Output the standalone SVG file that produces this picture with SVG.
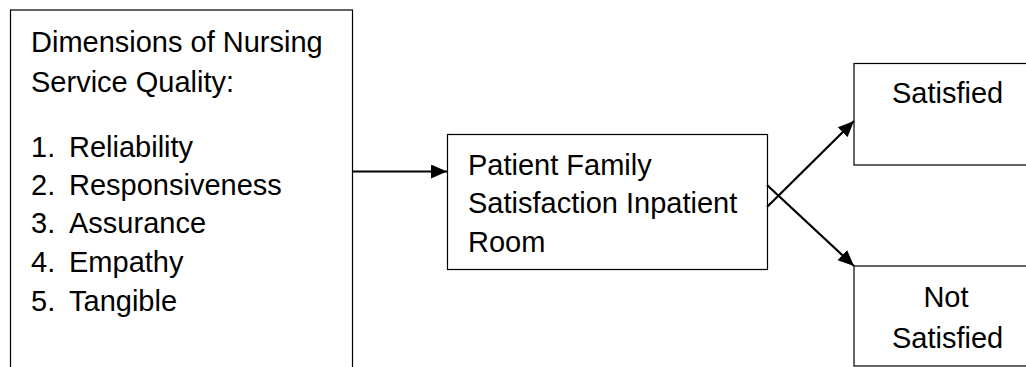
<svg xmlns="http://www.w3.org/2000/svg" width="1026" height="367" viewBox="0 0 1026 367">
<style>
.box{fill:#fff;stroke:#000;stroke-width:1.2}
.t{font-family:"Liberation Sans",Arial,sans-serif;font-size:29px;fill:#000}
.c{stroke:#000;stroke-width:2.2;fill:none}
</style>
<defs>
<marker id="ah" markerWidth="18" markerHeight="16" refX="16" refY="7" orient="auto" markerUnits="userSpaceOnUse">
<path d="M0,0 L16,7 L0,14 Z" fill="#000"/>
</marker>
</defs>
<rect width="1026" height="367" fill="#fff"/>
<g id="dimensions">
<rect class="box" x="10.5" y="10" width="342" height="370"/>
<text class="t" x="31" y="52">Dimensions of Nursing</text>
<text class="t" x="31" y="92">Service Quality:</text>
<text class="t" x="31" y="157">1.</text><text class="t" x="69" y="157">Reliability</text>
<text class="t" x="31" y="195">2.</text><text class="t" x="69" y="195">Responsiveness</text>
<text class="t" x="31" y="233">3.</text><text class="t" x="69" y="233">Assurance</text>
<text class="t" x="31" y="272">4.</text><text class="t" x="69" y="272">Empathy</text>
<text class="t" x="31" y="311">5.</text><text class="t" x="69" y="311">Tangible</text>
</g>
<g id="satisfaction">
<rect class="box" x="447.5" y="134.5" width="320" height="135"/>
<text class="t" x="468" y="175">Patient Family</text>
<text class="t" x="468" y="213">Satisfaction Inpatient</text>
<text class="t" x="468" y="252">Room</text>
</g>
<g id="satisfied">
<rect class="box" x="854" y="63.5" width="200" height="101.5"/>
<text class="t" x="892" y="103">Satisfied</text>
</g>
<g id="not-satisfied">
<rect class="box" x="854" y="266" width="200" height="100"/>
<text class="t" x="946" y="307" text-anchor="middle">Not</text>
<text class="t" x="892" y="348">Satisfied</text>
</g>
<g id="connectors">
<line class="c" x1="352" y1="171.5" x2="447" y2="171.5" marker-end="url(#ah)"/>
<line class="c" x1="767" y1="207" x2="854" y2="121" marker-end="url(#ah)"/>
<line class="c" x1="767" y1="185" x2="854" y2="266" marker-end="url(#ah)"/>
</g>
</svg>
